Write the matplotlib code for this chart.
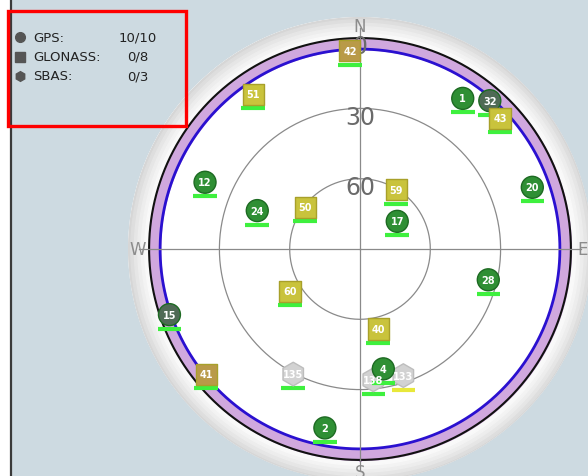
import numpy as np
import matplotlib
matplotlib.use('Agg')
import matplotlib.pyplot as plt
from matplotlib.patches import Rectangle
from matplotlib.transforms import offset_copy

# satellite positions (azimuth deg, elevation deg)
gps_ids = ['1', '32', '20', '12', '24', '15', '17', '28', '4', '2']
gps_az = [34.3, 41.2, 70.3, 293.3, 290.5, 251.0, 53.4, 103.5, 169.0, 191.1]
gps_el = [12.2, 5.9, 11.9, 18.0, 43.2, 4.0, 70.2, 33.7, 37.9, 12.2]

glonass_ids = ['43', '50', '60', '59', '40', '41', '42', '51']
glonass_az = [47.0, 307.3, 238.9, 31.3, 167.3, 230.9, 357.1, 325.4]
glonass_el = [8.3, 60.6, 55.1, 60.4, 55.0, 5.4, 5.3, 9.7]

sbas_ids = ['135', '138', '133']
sbas_az = [208.1, 174.2, 161.1]
sbas_el = [29.5, 33.9, 32.9]

legend_names = ['GPS:', 'GLONASS:', 'SBAS:']
legend_counts = ['10/10', '0/8', '0/3']

ring_elev = [0, 30, 60]
mask_elev = 4.7
dimmed = ['32', '15', '41', '42']        # drawn greyed out in the screenshot
weak_bar = ['133']                       # yellow signal bar instead of green

W, H = 588, 477
fig = plt.figure(figsize=(W / 100, H / 100), dpi=100)
fig.patch.set_facecolor('#cddae1')

def fx(x):
    return x / W

def fy(y):
    return 1 - y / H

# white strip left of the panel border + border line
fig.add_artist(Rectangle((0, 0), fx(11), 1, transform=fig.transFigure,
                         facecolor='white', edgecolor='none', zorder=0))
fig.add_artist(plt.Line2D([fx(11), fx(11)], [0, 1], transform=fig.transFigure,
                          color='#3a3a3a', lw=1.6))

# polar sky plot
center = (360, 250)
rpix = 232
ax = fig.add_axes([fx(center[0] - rpix), fy(center[1] + rpix),
                   2 * rpix / W, 2 * rpix / H], projection='polar')
ax.set_theta_zero_location('N')
ax.set_theta_direction(-1)
ax.set_rlim(0, 99)
ax.set_facecolor('white')
ax.grid(False)
ax.set_xticks([])
ax.set_yticks([])
ax.spines['polar'].set_visible(False)

th = np.linspace(0, 2 * np.pi, 400)
# bezel, faked gradient from grey rim to white
bezel = [(99, '#d6d6d6'), (98, '#dedede'), (96.5, '#e6e6e6'),
         (95, '#ededed'), (93.5, '#f3f3f3'), (92, '#f9f9f9')]
for rr, col in bezel:
    ax.fill_between(th, 90, rr, color=col, zorder=1)
# elevation mask band
ax.fill_between(th, 90 - mask_elev, 90, color='#d0a8de', zorder=2)
ax.plot(th, np.full_like(th, 90), color='#111111', lw=1.5, zorder=3)
ax.plot(th, np.full_like(th, 90 - mask_elev), color='#2a10d0', lw=2, zorder=3)

# elevation rings and cross hair
for e in ring_elev[1:]:
    ax.plot(th, np.full_like(th, 90 - e), color='#8a8a8a', lw=0.9, zorder=3)
for a in [0, 90, 180, 270]:
    ax.plot([np.deg2rad(a)] * 2, [0, 94.5], color='#8a8a8a', lw=0.9, zorder=3)
for e in ring_elev:
    ax.text(0, 90 - e - 3.5, str(e), color='#6a6a6a', fontsize=17,
            ha='center', va='center', zorder=4)
for lab, a in zip(['N', 'E', 'S', 'W'], [0, 90, 180, 270]):
    ax.text(np.deg2rad(a), 95, lab, color='#8c8c8c', fontsize=12,
            ha='center', va='center', zorder=4)

bar_tr = offset_copy(ax.transData, fig=fig, x=0, y=-14, units='dots')

def draw_sats(ids, az, el, marker, size, face, edge, dim_face, z, text_z=None):
    t = np.deg2rad(az)
    r = 90 - np.array(el)
    faces = [dim_face if i in dimmed else face for i in ids]
    bars = ['#e8e83a' if i in weak_bar else '#3ef03e' for i in ids]
    ax.scatter(t, r, s=24 ** 2 * 0.5, marker='_', c=bars, linewidths=3,
               transform=bar_tr, zorder=z)
    ax.scatter(t, r, s=size, marker=marker, c=faces, edgecolors=edge,
               linewidths=1, zorder=z + 0.1)
    if text_z is None:
        text_z = z + 0.2
    for i, ti, ri in zip(ids, t, r):
        ax.text(ti, ri, i, color='white', fontsize=7, fontweight='bold',
                ha='center', va='center', zorder=text_z)

draw_sats(sbas_ids, sbas_az, sbas_el, 'h', 290, '#d2d2d2', '#bdbdbd', '#d2d2d2', 5, text_z=8)
draw_sats(gps_ids, gps_az, gps_el, 'o', 250, '#2f8f34', '#1d6a22', '#4f6a55', 6)
draw_sats(glonass_ids, glonass_az, glonass_el, 's', 230, '#c9c33c', '#a8a02a', '#b99a48', 7)

# legend panel
icons = ['o', 's', 'h']
for k, (name, cnt, m) in enumerate(zip(legend_names, legend_counts, icons)):
    y = 38 + 19.5 * k
    fig.add_artist(plt.Line2D([fx(20)], [fy(y)], marker=m, markersize=7,
                              color='#555555', transform=fig.transFigure))
    fig.text(fx(33), fy(y), name, fontsize=9.5, color='#222222',
             ha='left', va='center')
    fig.text(fx(138), fy(y), cnt, fontsize=9.5, color='#222222',
             ha='center', va='center')
fig.add_artist(Rectangle((fx(8), fy(127)), fx(178), 115 / H,
                         transform=fig.transFigure, facecolor='none',
                         edgecolor='#ff0000', lw=2.4, zorder=10))

fig.savefig('out.png', dpi=100, facecolor=fig.get_facecolor())
